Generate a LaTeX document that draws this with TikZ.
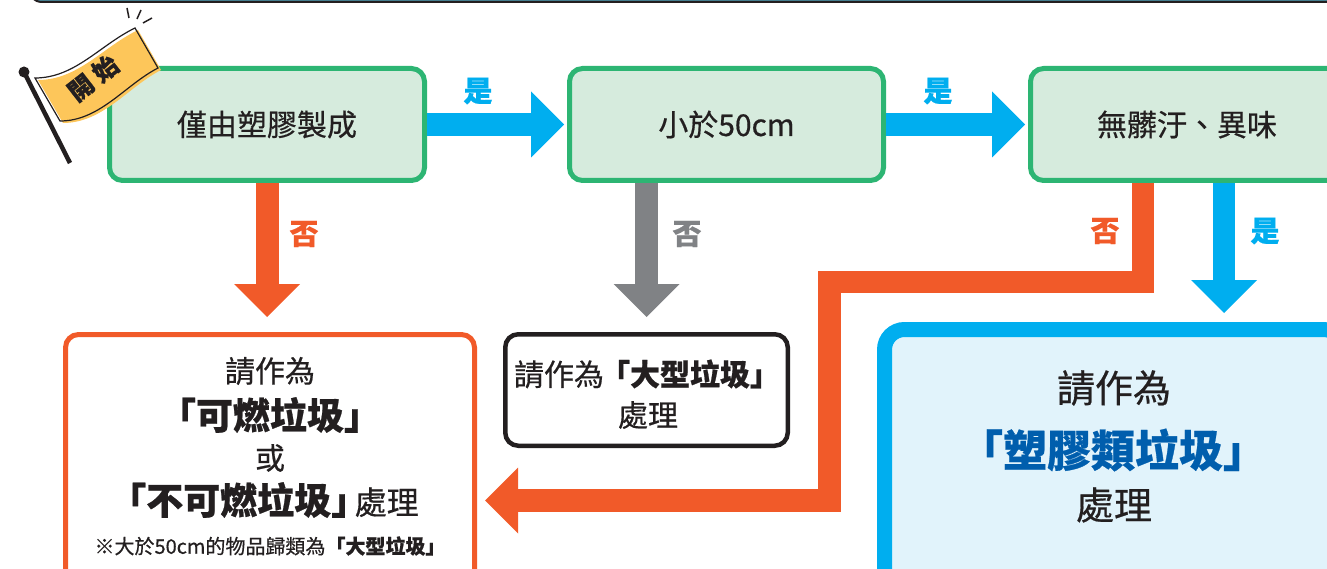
\documentclass[tikz,border=0pt]{standalone}
\usepackage{fontspec}
\setmainfont{Noto Sans CJK TC}[UprightFeatures={FakeBold=0.5},BoldFeatures={FakeBold=0.6}]
\usetikzlibrary{arrows.meta,calc}
\definecolor{gborder}{HTML}{2DB573}
\definecolor{gfill}{HTML}{D6EBDD}
\definecolor{cblue}{HTML}{00AEEF}
\definecolor{corange}{HTML}{F15A29}
\definecolor{cgray}{HTML}{808285}
\definecolor{ctext}{HTML}{231F20}
\definecolor{cdblue}{HTML}{005EAD}
\definecolor{lbfill}{HTML}{E1F3FB}
\definecolor{flagy}{HTML}{FDC65A}
\definecolor{topfill}{HTML}{4A8CA0}
\newcommand{\fsz}[1]{\fontsize{#1}{#1}\selectfont}
\newcommand{\halfp}[1]{{\addfontfeature{RawFeature=+halt}#1}}
\tikzset{
  qbox/.style={draw=gborder, fill=gfill, line width=5pt, rounded corners=13pt,
    minimum width=315pt, minimum height=112pt, inner sep=0pt, text=ctext, font=\fsz{30}},
  obox/.style={draw=corange, fill=white, line width=5pt, rounded corners=13pt, inner sep=0pt},
  kbox/.style={draw=ctext, fill=white, line width=4.5pt, rounded corners=13pt, inner sep=0pt},
  bbox/.style={draw=cblue, fill=lbfill, line width=15pt, rounded corners=20pt, inner sep=0pt},
  txt/.style={inner sep=0pt, text=ctext},
  lbl/.style={inner sep=0pt, font=\fsz{29}\bfseries},
  barrow/.style={line width=23pt, line join=miter, -{Triangle[length=33pt,width=66pt,line width=0pt]}},
}
\begin{document}
\begin{tikzpicture}[x=1pt,y=-1pt]
\useasboundingbox (0,0) rectangle (1327,569);

% top strip (bottom of a header box)
\draw[draw=ctext, fill=topfill, line width=2pt, rounded corners=14pt] (28,-40) rectangle (1370,2);

% question boxes
\node[qbox] (b1) at (267,124.5) {僅由塑膠製成};
\node[qbox, minimum width=314pt] (b2) at (726.5,124.5) {小於50cm};
\node[qbox, minimum width=313pt] (b3) at (1187,124.5) {無髒汙、異味};

% result boxes
\node[obox, minimum width=409pt, minimum height=253pt] (b4) at (270,461) {};
\node[txt, font=\fsz{30}] (b4a) at (270,371) {請作為};
\node[txt, font=\fsz{37}\bfseries] (b4b) at (270,415) {「可燃垃圾」};
\node[txt, font=\fsz{30}] (b4c) at (270,458) {或};
\node[txt, font=\fsz{37}\bfseries] (b4d) at (264,500) {「不可燃垃圾\halfp{」}\hspace{5pt}\fsz{32}\mdseries 處理};
\node[txt, font=\fsz{20}] (b4e) at (270,546) {※大於50cm的物品歸類為\bfseries「大型垃圾」};

\node[kbox, minimum width=282.5pt, minimum height=111.5pt] (b5) at (646.5,390) {};
\node[txt, font=\fsz{30}] (b5a) at (647,374) {請作為\hspace{-4pt}\bfseries「大型垃圾」};
\node[txt, font=\fsz{30}] (b5b) at (648,415) {處理};

\node[bbox, minimum width=459pt, minimum height=283pt] (b6) at (1114,471) {};
\node[txt, font=\fsz{38}] (b6a) at (1114,388) {請作為};
\node[txt, font=\fsz{44}\bfseries, text=cdblue] (b6b) at (1113,450) {「塑膠類垃圾」};
\node[txt, font=\fsz{38}] (b6c) at (1114,505) {處理};

% helper coordinates
\coordinate (d0) at (1143,0);
\coordinate (d1) at (1224,0);
\coordinate (c1) at (829.5,282);
\coordinate (c2) at (829.5,500.5);

% connectors
\draw[barrow, cblue, shorten >=3pt] (b1.east) -- (b2.west);
\draw[barrow, cblue, shorten >=3pt] (b2.east) -- (b3.west);
\draw[barrow, corange, shorten >=15pt] (b1.south) -- (b1.south |- b4.north);
\draw[barrow, cgray, shorten >=15pt] (b5.north |- b2.south) -- (b5.north);
\draw[barrow, cblue, line width=22.5pt, shorten >=9pt] (b3.south -| d1) -- (b6.north -| d1);
\draw[barrow, corange, line width=22.5pt, shorten >=8pt] (b3.south -| d0) |- (c1) |- (b4.east |- c2);

% labels
\node[lbl, text=cblue] (l1) at (478,91) {是};
\node[lbl, text=cblue] (l2) at (938,91) {是};
\node[lbl, text=corange] (l3) at (304,234) {否};
\node[lbl, text=cgray] (l4) at (687,234) {否};
\node[lbl, text=corange] (l5) at (1105,231) {否};
\node[lbl, text=cblue] (l6) at (1265,231) {是};

% start flag
\fill[flagy] (38,80) .. controls (78,80) and (103,47) .. (138,30)
  -- (161,70) .. controls (128,87) and (103,123) .. (63,123) -- cycle;
\draw[ctext, line width=1.2pt] (35,78) .. controls (75,78) and (100,45) .. (135,28)
  -- (158,68) .. controls (125,85) and (100,121) .. (60,121) -- cycle;
\draw[ctext, line width=4.5pt] (24,72) -- (70,163);
\fill[ctext] (24,72) circle (5.5);
\node[txt, font=\fsz{25}\bfseries, rotate=38] (flagtxt) at (93,78) {開\hspace{6pt}始};
\draw[ctext, line width=1.5pt] (127,8) -- (129,18);
\draw[ctext, line width=1.5pt] (141,10) -- (137,19);
\draw[ctext, line width=1.5pt] (152,18) -- (143,23);
\end{tikzpicture}
\end{document}
